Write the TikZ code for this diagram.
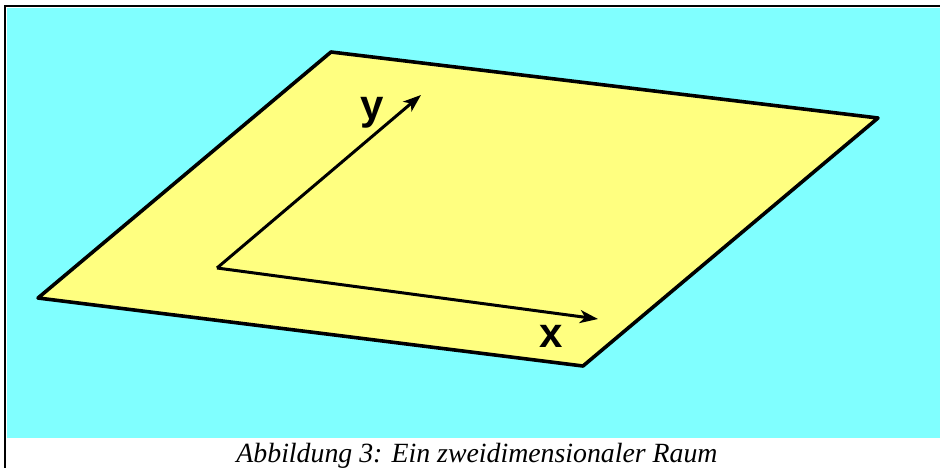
\documentclass[tikz,border=0pt]{standalone}
\usepackage{fontspec}
\setmainfont{Liberation Serif}
\setsansfont{Liberation Sans}
\usetikzlibrary{arrows.meta}
\definecolor{skycyan}{RGB}{128,255,255}
\definecolor{planeyellow}{RGB}{255,255,128}
\tikzset{
  planeedge/.style={black, line width=3.6pt, line join=round},
  axisline/.style={black, line width=3pt, -{Stealth[length=18pt,width=13pt,inset=5pt]}},
  axislabel/.style={font=\sffamily\bfseries\fontsize{42}{42}\selectfont, anchor=base, inner sep=0pt}
}
\begin{document}
\begin{tikzpicture}[x=1pt, y=-1pt]
  \useasboundingbox (0,0) rectangle (940,468);
  \fill[white] (0,0) rectangle (940,468);
  \fill[skycyan] (7,8.5) rectangle (940,437.5);
  \draw[black, line width=2pt] (940,6.5) -- (4.5,6.5) -- (4.5,468);
  % the plane
  \coordinate (tl) at (331,52);
  \coordinate (tr) at (878,118);
  \coordinate (br) at (583,366);
  \coordinate (bl) at (38,298);
  \filldraw[planeedge, fill=planeyellow] (tl) -- (tr) -- (br) -- (bl) -- cycle;
  % axes
  \coordinate (o) at (217,268);
  \coordinate (xend) at (598,319);
  \coordinate (yend) at (421,95);
  \draw[axisline] (o) -- (xend);
  \draw[axisline] (o) -- (yend);
  \node[axislabel] (ylab) at (372,120) {y};
  \node[axislabel] (xlab) at (551,347) {x};
  \node[font=\itshape\fontsize{27.8}{28}\selectfont, anchor=base, inner sep=0pt] (cap) at (477,462.5)
    {Abbildung 3: Ein zweidimensionaler Raum};
\end{tikzpicture}
\end{document}
